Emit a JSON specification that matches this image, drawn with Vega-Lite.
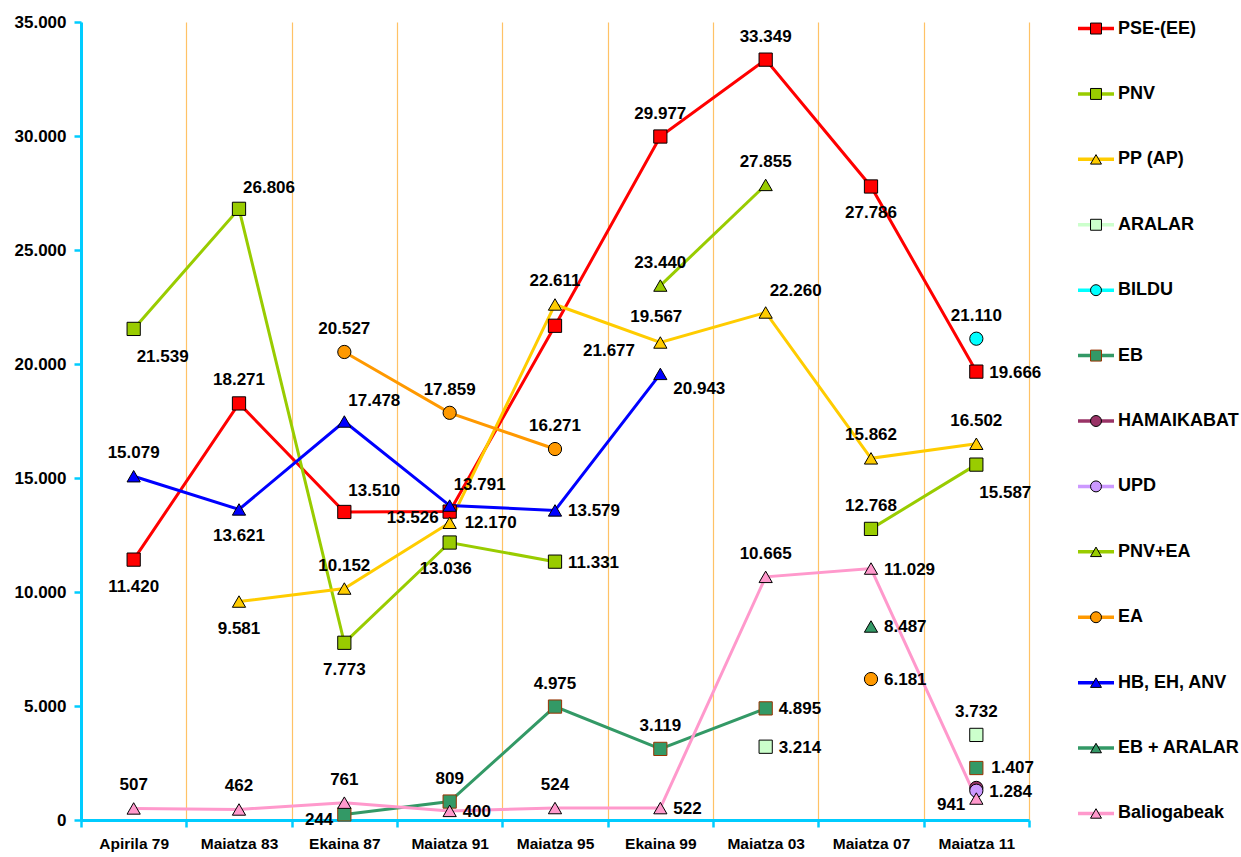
{
  "$schema": "https://vega.github.io/schema/vega-lite/v6.json",
  "padding": {"left": 14, "top": 13, "right": 0, "bottom": 0},
  "config": {
    "view": {"stroke": null},
    "font": "Liberation Sans",
    "locale": {"number": {"decimal": ",", "thousands": ".", "grouping": [3], "currency": ["", " €"]}},
    "text": {"font": "Liberation Sans", "fontWeight": "bold", "fontSize": 17, "baseline": "middle"}
  },
  "datasets": {
    "votes": [
      {"period": "Apirila 79", "series": "PSE-(EE)", "value": 11420},
      {"period": "Maiatza 83", "series": "PSE-(EE)", "value": 18271},
      {"period": "Ekaina 87", "series": "PSE-(EE)", "value": 13510},
      {"period": "Maiatza 91", "series": "PSE-(EE)", "value": 13526},
      {"period": "Maiatza 95", "series": "PSE-(EE)", "value": 21677},
      {"period": "Ekaina 99", "series": "PSE-(EE)", "value": 29977},
      {"period": "Maiatza 03", "series": "PSE-(EE)", "value": 33349},
      {"period": "Maiatza 07", "series": "PSE-(EE)", "value": 27786},
      {"period": "Maiatza 11", "series": "PSE-(EE)", "value": 19666},
      {"period": "Apirila 79", "series": "PNV", "value": 21539},
      {"period": "Maiatza 83", "series": "PNV", "value": 26806},
      {"period": "Ekaina 87", "series": "PNV", "value": 7773},
      {"period": "Maiatza 91", "series": "PNV", "value": 12170},
      {"period": "Maiatza 95", "series": "PNV", "value": 11331},
      {"period": "Ekaina 99", "series": "PNV", "value": null},
      {"period": "Maiatza 03", "series": "PNV", "value": null},
      {"period": "Maiatza 07", "series": "PNV", "value": 12768},
      {"period": "Maiatza 11", "series": "PNV", "value": 15587},
      {"period": "Maiatza 83", "series": "PP (AP)", "value": 9581},
      {"period": "Ekaina 87", "series": "PP (AP)", "value": 10152},
      {"period": "Maiatza 91", "series": "PP (AP)", "value": 13036},
      {"period": "Maiatza 95", "series": "PP (AP)", "value": 22611},
      {"period": "Ekaina 99", "series": "PP (AP)", "value": 20943},
      {"period": "Maiatza 03", "series": "PP (AP)", "value": 22260},
      {"period": "Maiatza 07", "series": "PP (AP)", "value": 15862},
      {"period": "Maiatza 11", "series": "PP (AP)", "value": 16502},
      {"period": "Maiatza 03", "series": "ARALAR", "value": 3214},
      {"period": "Maiatza 07", "series": "ARALAR", "value": null},
      {"period": "Maiatza 11", "series": "ARALAR", "value": 3732},
      {"period": "Maiatza 11", "series": "BILDU", "value": 21110},
      {"period": "Ekaina 87", "series": "EB", "value": 244},
      {"period": "Maiatza 91", "series": "EB", "value": 809},
      {"period": "Maiatza 95", "series": "EB", "value": 4975},
      {"period": "Ekaina 99", "series": "EB", "value": 3119},
      {"period": "Maiatza 03", "series": "EB", "value": 4895},
      {"period": "Maiatza 07", "series": "EB", "value": null},
      {"period": "Maiatza 11", "series": "EB", "value": 2280},
      {"period": "Maiatza 11", "series": "HAMAIKABAT", "value": 1407},
      {"period": "Maiatza 11", "series": "UPD", "value": 1284},
      {"period": "Ekaina 99", "series": "PNV+EA", "value": 23440},
      {"period": "Maiatza 03", "series": "PNV+EA", "value": 27855},
      {"period": "Ekaina 87", "series": "EA", "value": 20527},
      {"period": "Maiatza 91", "series": "EA", "value": 17859},
      {"period": "Maiatza 95", "series": "EA", "value": 16271},
      {"period": "Ekaina 99", "series": "EA", "value": null},
      {"period": "Maiatza 03", "series": "EA", "value": null},
      {"period": "Maiatza 07", "series": "EA", "value": 6181},
      {"period": "Apirila 79", "series": "HB, EH, ANV", "value": 15079},
      {"period": "Maiatza 83", "series": "HB, EH, ANV", "value": 13621},
      {"period": "Ekaina 87", "series": "HB, EH, ANV", "value": 17478},
      {"period": "Maiatza 91", "series": "HB, EH, ANV", "value": 13791},
      {"period": "Maiatza 95", "series": "HB, EH, ANV", "value": 13579},
      {"period": "Ekaina 99", "series": "HB, EH, ANV", "value": 19567},
      {"period": "Maiatza 07", "series": "EB + ARALAR", "value": 8487},
      {"period": "Apirila 79", "series": "Baliogabeak", "value": 507},
      {"period": "Maiatza 83", "series": "Baliogabeak", "value": 462},
      {"period": "Ekaina 87", "series": "Baliogabeak", "value": 761},
      {"period": "Maiatza 91", "series": "Baliogabeak", "value": 400},
      {"period": "Maiatza 95", "series": "Baliogabeak", "value": 524},
      {"period": "Ekaina 99", "series": "Baliogabeak", "value": 522},
      {"period": "Maiatza 03", "series": "Baliogabeak", "value": 10665},
      {"period": "Maiatza 07", "series": "Baliogabeak", "value": 11029},
      {"period": "Maiatza 11", "series": "Baliogabeak", "value": 941}
    ],
    "legendItems": [
      {"series": "PSE-(EE)"}, {"series": "PNV"}, {"series": "PP (AP)"}, {"series": "ARALAR"},
      {"series": "BILDU"}, {"series": "EB"}, {"series": "HAMAIKABAT"}, {"series": "UPD"},
      {"series": "PNV+EA"}, {"series": "EA"}, {"series": "HB, EH, ANV"}, {"series": "EB + ARALAR"},
      {"series": "Baliogabeak"}
    ]
  },
  "spacing": 9,
  "hconcat": [
    {
      "width": 948,
      "height": 798,
      "data": {"name": "votes"},
      "encoding": {
        "x": {
          "field": "period", "type": "ordinal", "title": null,
          "sort": ["Apirila 79", "Maiatza 83", "Ekaina 87", "Maiatza 91", "Maiatza 95", "Ekaina 99", "Maiatza 03", "Maiatza 07", "Maiatza 11"],
          "scale": {"type": "band", "paddingInner": 0, "paddingOuter": 0},
          "axis": {
            "tickBand": "extent", "grid": true, "gridColor": "#FFC266", "gridWidth": 1.2,
            "domainColor": "#00CCFF", "domainWidth": 3, "tickColor": "#00CCFF", "tickWidth": 2.5, "tickSize": 7,
            "labelAngle": 0, "labelFont": "Liberation Sans", "labelFontWeight": "bold", "labelFontSize": 15.5,
            "labelColor": "#000000", "labelPadding": 9
          }
        },
        "y": {
          "field": "value", "type": "quantitative", "title": null,
          "scale": {"domain": [0, 35000], "nice": false},
          "axis": {
            "values": [0, 5000, 10000, 15000, 20000, 25000, 30000, 35000], "format": ",d", "grid": false,
            "domainColor": "#00CCFF", "domainWidth": 3, "tickColor": "#00CCFF", "tickWidth": 2.5, "tickSize": 7,
            "labelFont": "Liberation Sans", "labelFontWeight": "bold", "labelFontSize": 17, "labelColor": "#000000", "labelPadding": 8
          }
        }
      },
      "layer": [
        {
          "mark": {"type": "line", "strokeWidth": 3, "invalid": "break-paths-filter-domains"},
          "encoding": {
            "color": {"field": "series", "type": "nominal", "legend": null,
              "scale": {"domain": ["PSE-(EE)", "PNV", "PP (AP)", "ARALAR", "BILDU", "EB", "HAMAIKABAT", "UPD", "PNV+EA", "EA", "HB, EH, ANV", "EB + ARALAR", "Baliogabeak"],
                        "range": ["#FF0000", "#99CC00", "#FFCC00", "#CCFFCC", "#00FFFF", "#339966", "#993366", "#CC99FF", "#99CC00", "#FF9900", "#0000FF", "#339966", "#FF99CC"]}}
          }
        },
        {
          "transform": [{"filter": "datum.value != null"}],
          "mark": {"type": "point", "filled": true, "size": 175, "strokeWidth": 1, "opacity": 1},
          "encoding": {
            "fill": {"field": "series", "type": "nominal", "legend": null,
              "scale": {"domain": ["PSE-(EE)", "PNV", "PP (AP)", "ARALAR", "BILDU", "EB", "HAMAIKABAT", "UPD", "PNV+EA", "EA", "HB, EH, ANV", "EB + ARALAR", "Baliogabeak"],
                        "range": ["#FF0000", "#99CC00", "#FFCC00", "#CCFFCC", "#00FFFF", "#339966", "#993366", "#CC99FF", "#99CC00", "#FF9900", "#0000FF", "#339966", "#FF99CC"]}},
            "shape": {"field": "series", "type": "nominal", "legend": null,
              "scale": {"domain": ["PSE-(EE)", "PNV", "PP (AP)", "ARALAR", "BILDU", "EB", "HAMAIKABAT", "UPD", "PNV+EA", "EA", "HB, EH, ANV", "EB + ARALAR", "Baliogabeak"],
                        "range": ["square", "square", "triangle-up", "square", "circle", "square", "circle", "circle", "triangle-up", "circle", "triangle-up", "triangle-up", "triangle-up"]}},
            "stroke": {"condition": {"test": "datum.series == 'EB'", "value": "#993300"}, "value": "#000000"}
          }
        },
        {
          "transform": [{"filter": "datum.value != null && indexof(['PSE-(EE)|Maiatza 83','PSE-(EE)|Ekaina 99','PSE-(EE)|Maiatza 03','PP (AP)|Ekaina 87','PP (AP)|Maiatza 95','PP (AP)|Maiatza 07','PP (AP)|Maiatza 11','HB, EH, ANV|Apirila 79','EA|Ekaina 87','EA|Maiatza 91','EA|Maiatza 95','PNV+EA|Ekaina 99','PNV+EA|Maiatza 03','PNV|Maiatza 07','EB|Maiatza 95','EB|Ekaina 99','EB|Maiatza 91','BILDU|Maiatza 11','ARALAR|Maiatza 11','Baliogabeak|Apirila 79','Baliogabeak|Maiatza 83','Baliogabeak|Ekaina 87','Baliogabeak|Maiatza 95','Baliogabeak|Maiatza 03'], datum.series + '|' + datum.period) >= 0"}],
          "mark": {"type": "text", "align": "center", "dy": -23},
          "encoding": {"text": {"field": "value", "type": "quantitative", "format": ",d"}}
        },
        {
          "transform": [{"filter": "datum.value != null && indexof(['HB, EH, ANV|Ekaina 99'], datum.series + '|' + datum.period) >= 0"}],
          "mark": {"type": "text", "align": "center", "dy": -57, "dx": -4},
          "encoding": {"text": {"field": "value", "type": "quantitative", "format": ",d"}}
        },
        {
          "transform": [{"filter": "datum.value != null && indexof(['PSE-(EE)|Ekaina 87','HB, EH, ANV|Ekaina 87','HB, EH, ANV|Maiatza 91','PNV|Maiatza 83','PP (AP)|Maiatza 03'], datum.series + '|' + datum.period) >= 0"}],
          "mark": {"type": "text", "align": "left", "dx": 4, "dy": -21},
          "encoding": {"text": {"field": "value", "type": "quantitative", "format": ",d"}}
        },
        {
          "transform": [{"filter": "datum.value != null && indexof(['PSE-(EE)|Apirila 79','PSE-(EE)|Maiatza 07','PNV|Ekaina 87','PP (AP)|Maiatza 83','HB, EH, ANV|Maiatza 83'], datum.series + '|' + datum.period) >= 0"}],
          "mark": {"type": "text", "align": "center", "dy": 27},
          "encoding": {"text": {"field": "value", "type": "quantitative", "format": ",d"}}
        },
        {
          "transform": [{"filter": "datum.value != null && indexof(['PP (AP)|Maiatza 91'], datum.series + '|' + datum.period) >= 0"}],
          "mark": {"type": "text", "align": "center", "dy": 46, "dx": -4},
          "encoding": {"text": {"field": "value", "type": "quantitative", "format": ",d"}}
        },
        {
          "transform": [{"filter": "datum.value != null && indexof(['PP (AP)|Ekaina 99'], datum.series + '|' + datum.period) >= 0"}],
          "mark": {"type": "text", "align": "left", "dx": 13, "dy": 47},
          "encoding": {"text": {"field": "value", "type": "quantitative", "format": ",d"}}
        },
        {
          "transform": [{"filter": "datum.value != null && indexof(['PNV|Apirila 79','PNV|Maiatza 11'], datum.series + '|' + datum.period) >= 0"}],
          "mark": {"type": "text", "align": "left", "dx": 3, "dy": 28},
          "encoding": {"text": {"field": "value", "type": "quantitative", "format": ",d"}}
        },
        {
          "transform": [{"filter": "datum.value != null && indexof(['PSE-(EE)|Maiatza 95'], datum.series + '|' + datum.period) >= 0"}],
          "mark": {"type": "text", "align": "left", "dx": 28, "dy": 25},
          "encoding": {"text": {"field": "value", "type": "quantitative", "format": ",d"}}
        },
        {
          "transform": [{"filter": "datum.value != null && indexof(['PSE-(EE)|Maiatza 11','PNV|Maiatza 95','HB, EH, ANV|Maiatza 95','EB|Maiatza 03','ARALAR|Maiatza 03','EB + ARALAR|Maiatza 07','EA|Maiatza 07','Baliogabeak|Maiatza 07','UPD|Maiatza 11','Baliogabeak|Maiatza 91','Baliogabeak|Ekaina 99'], datum.series + '|' + datum.period) >= 0"}],
          "mark": {"type": "text", "align": "left", "dx": 13, "dy": 1},
          "encoding": {"text": {"field": "value", "type": "quantitative", "format": ",d"}}
        },
        {
          "transform": [{"filter": "datum.value != null && indexof(['PNV|Maiatza 91','HAMAIKABAT|Maiatza 11'], datum.series + '|' + datum.period) >= 0"}],
          "mark": {"type": "text", "align": "left", "dx": 15, "dy": -20},
          "encoding": {"text": {"field": "value", "type": "quantitative", "format": ",d"}}
        },
        {
          "transform": [{"filter": "datum.value != null && indexof(['PSE-(EE)|Maiatza 91','EB|Ekaina 87','Baliogabeak|Maiatza 11'], datum.series + '|' + datum.period) >= 0"}],
          "mark": {"type": "text", "align": "right", "dx": -11, "dy": 6},
          "encoding": {"text": {"field": "value", "type": "quantitative", "format": ",d"}}
        }
      ]
    },
    {
      "width": 180,
      "height": 798,
      "data": {"name": "legendItems"},
      "encoding": {
        "y": {"field": "series", "type": "nominal", "axis": null,
          "sort": ["PSE-(EE)", "PNV", "PP (AP)", "ARALAR", "BILDU", "EB", "HAMAIKABAT", "UPD", "PNV+EA", "EA", "HB, EH, ANV", "EB + ARALAR", "Baliogabeak"],
          "scale": {"type": "point", "padding": 0.1}}
      },
      "layer": [
        {
          "mark": {"type": "rule", "strokeWidth": 3.5},
          "encoding": {
            "x": {"datum": 27, "type": "quantitative", "scale": {"domain": [0, 180], "nice": false, "zero": false}, "axis": null},
            "x2": {"datum": 63},
            "color": {"field": "series", "type": "nominal", "legend": null,
              "scale": {"domain": ["PSE-(EE)", "PNV", "PP (AP)", "ARALAR", "BILDU", "EB", "HAMAIKABAT", "UPD", "PNV+EA", "EA", "HB, EH, ANV", "EB + ARALAR", "Baliogabeak"],
                        "range": ["#FF0000", "#99CC00", "#FFCC00", "#CCFFCC", "#00FFFF", "#339966", "#993366", "#CC99FF", "#99CC00", "#FF9900", "#0000FF", "#339966", "#FF99CC"]}}
          }
        },
        {
          "mark": {"type": "point", "filled": true, "size": 120, "strokeWidth": 1, "opacity": 1},
          "encoding": {
            "x": {"datum": 45, "type": "quantitative", "scale": {"domain": [0, 180], "nice": false, "zero": false}, "axis": null},
            "fill": {"field": "series", "type": "nominal", "legend": null,
              "scale": {"domain": ["PSE-(EE)", "PNV", "PP (AP)", "ARALAR", "BILDU", "EB", "HAMAIKABAT", "UPD", "PNV+EA", "EA", "HB, EH, ANV", "EB + ARALAR", "Baliogabeak"],
                        "range": ["#FF0000", "#99CC00", "#FFCC00", "#CCFFCC", "#00FFFF", "#339966", "#993366", "#CC99FF", "#99CC00", "#FF9900", "#0000FF", "#339966", "#FF99CC"]}},
            "shape": {"field": "series", "type": "nominal", "legend": null,
              "scale": {"domain": ["PSE-(EE)", "PNV", "PP (AP)", "ARALAR", "BILDU", "EB", "HAMAIKABAT", "UPD", "PNV+EA", "EA", "HB, EH, ANV", "EB + ARALAR", "Baliogabeak"],
                        "range": ["square", "square", "triangle-up", "square", "circle", "square", "circle", "circle", "triangle-up", "circle", "triangle-up", "triangle-up", "triangle-up"]}},
            "stroke": {"condition": {"test": "datum.series == 'EB'", "value": "#993300"}, "value": "#000000"}
          }
        },
        {
          "mark": {"type": "text", "align": "left", "fontSize": 18},
          "encoding": {
            "x": {"datum": 67, "type": "quantitative", "scale": {"domain": [0, 180], "nice": false, "zero": false}, "axis": null},
            "text": {"field": "series", "type": "nominal"}
          }
        }
      ]
    }
  ]
}
